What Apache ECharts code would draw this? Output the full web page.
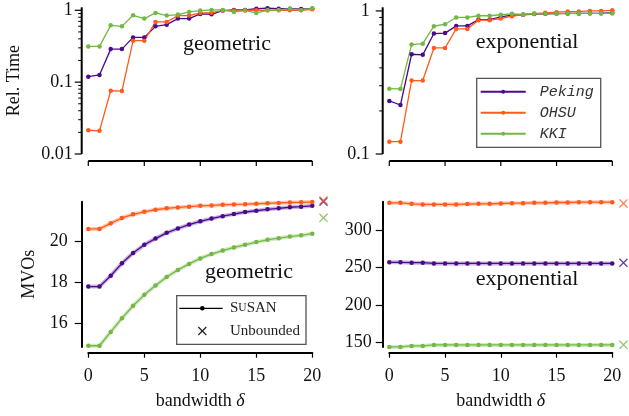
<!DOCTYPE html>
<html>
<head>
<meta charset="utf-8">
<script src="https://cdn.jsdelivr.net/npm/echarts@6/dist/echarts.min.js"></script>
<style>
html,body{margin:0;padding:0;background:#fff;}
#chart{width:629px;height:416px;}
</style>
</head>
<body>
<div id="chart"></div>
<script>
// ---------------- data ----------------
const bandwidth = [0,1,2,3,4,5,6,7,8,9,10,11,12,13,14,15,16,17,18,19,20];

const geoTimePeking = [0.119,0.126,0.288,0.288,0.419,0.419,0.597,0.631,0.766,0.766,0.89,0.88,0.99,1.01,1.01,1.05,1.07,1.05,1.05,1.04,1.05];
const geoTimeOHSU   = [0.0214,0.021,0.076,0.075,0.377,0.377,0.688,0.688,0.843,0.843,0.918,0.925,0.99,0.99,1.0,1.0,1.0,1.0,1.0,1.0,1.03];
const geoTimeKKI    = [0.314,0.314,0.617,0.597,0.851,0.766,0.918,0.843,0.87,0.95,0.99,1.01,1.01,0.95,0.99,0.92,1.0,1.01,1.05,1.0,1.07];

const expTimePeking = [0.235,0.22,0.498,0.493,0.695,0.70,0.786,0.786,0.87,0.87,0.908,0.933,0.94,0.95,0.955,0.958,0.96,0.96,0.962,0.965,0.97];
const expTimeOHSU   = [0.122,0.122,0.326,0.326,0.551,0.551,0.749,0.749,0.861,0.861,0.885,0.918,0.945,0.958,0.97,0.98,0.99,0.99,1.0,1.0,1.01];
const expTimeKKI    = [0.286,0.285,0.582,0.59,0.782,0.807,0.9,0.9,0.925,0.925,0.94,0.955,0.945,0.955,0.955,0.958,0.958,0.96,0.96,0.96,0.96];

const geoMvoPeking = [17.78,17.78,18.31,18.91,19.41,19.81,20.11,20.39,20.6,20.79,20.95,21.08,21.2,21.3,21.4,21.46,21.53,21.58,21.63,21.66,21.7];
const geoMvoOHSU   = [20.58,20.58,20.85,21.11,21.29,21.41,21.51,21.58,21.62,21.66,21.7,21.72,21.75,21.77,21.78,21.8,21.82,21.84,21.86,21.87,21.88];
const geoMvoKKI    = [14.91,14.91,15.58,16.24,16.85,17.38,17.83,18.25,18.59,18.88,19.15,19.36,19.53,19.68,19.81,19.94,20.05,20.13,20.21,20.27,20.35];

const expMvoPeking = [256.8,256.8,256.4,256.4,255.4,255.4,255.4,255.4,255.4,255.4,255.4,255.4,255.4,255.4,255.4,255.4,255.4,255.4,255.4,255.4,255.4];
const expMvoOHSU   = [336.5,336.5,335.2,334.3,334.3,334.3,334.3,334.8,335.2,335.2,335.6,336,336,336.5,336.5,336.9,336.9,337.3,337.3,337.3,337.3];
const expMvoKKI    = [143.6,143.6,144.9,144.9,146.3,146.3,146.3,146.3,146.3,146.3,146.3,146.3,146.3,146.3,146.3,146.3,146.3,146.3,146.3,146.3,146.3];

// "Unbounded" reference values, drawn just right of delta = 20
const unboundedDelta = 21;
const geoUnbounded = {Peking: 21.9, OHSU: 21.96, KKI: 21.12};
const expUnbounded = {Peking: 256.3, OHSU: 335.7, KKI: 146.4};

const datasets = ['Peking','OHSU','KKI'];
const xTicks = [0,5,10,15,20];
const geoTimeTicks = [0.01,0.1,1];
const expTimeTicks = [0.1,1];
const minorLogTicks = [0.02,0.03,0.04,0.05,0.06,0.07,0.08,0.09,0.2,0.3,0.4,0.5,0.6,0.7,0.8,0.9];
const geoMvoTicks = [16,18,20];
const expMvoTicks = [150,200,250,300];
const panelTitles = ['geometric','exponential','geometric','exponential'];
const geoTimeRange = [0.01, 1.1];
const expTimeRange = [0.1, 1.06];

// ---------------- style / layout ----------------
const colors = {Peking:'#4b0a8c', OHSU:'#ff5a1a', KKI:'#72b843'};
const SERIF = "'Liberation Serif', 'DejaVu Serif', serif";
const MONO = "'Liberation Mono', 'DejaVu Sans Mono', monospace";
const XPATH = 'path://M0,1L1,0L10,9L9,10Z M9,0L10,1L1,10L0,9Z';
const Y_OFFSET = 6.6, TOP_X_OFFSET = 7;

const grids = [
  {left:88.3, top:7.3, width:224, height:146.7},
  {left:389.3, top:7.3, width:223, height:146.7},
  {left:88.3, top:201.7, width:224, height:145.3},
  {left:389.3, top:201.7, width:223, height:145.3}
].map(g => Object.assign({containLabel:false, outerBoundsMode:'none'}, g));

function topX(i){
  return {type:'value', gridIndex:i, position:'bottom', min:0, max:20, interval:5, show:false};
}
function bottomX(i){
  return {
    type:'value', gridIndex:i, position:'bottom', min:0, max:20, interval:5, offset:5.7,
    axisLine:{show:true, onZero:false, lineStyle:{color:'#000', width:2}},
    axisTick:{show:true, length:5, lineStyle:{color:'#000', width:1.2}},
    axisLabel:{show:true, margin:15, fontSize:18, color:'#111', fontFamily:SERIF},
    splitLine:{show:false},
    name:'bandwidth {i|δ}', nameLocation:'middle', nameGap:40,
    nameTextStyle:{fontSize:18, color:'#111', fontFamily:SERIF, rich:{i:{fontSize:18, fontStyle:'italic', fontFamily:SERIF, color:'#111'}}}
  };
}
function logAxis(i, range, ticks, margin, name){
  return {
    type:'log', logBase:10, gridIndex:i, position:'left', min:range[0], max:range[1], offset:Y_OFFSET,
    axisLine:{show:false, onZero:false},
    axisTick:{show:false},
    axisLabel:{margin:margin, fontSize:18, color:'#111', fontFamily:SERIF, showMaxLabel:false,
      formatter: v => (ticks.some(t => Math.abs(t - v) < 1e-9) ? String(v) : '')},
    splitLine:{show:false},
    name:name, nameLocation:'middle', nameGap:58,
    nameTextStyle:{fontSize:18, color:'#111', fontFamily:SERIF}
  };
}
function valueAxis(i, min, max, ticks, margin, name, gap){
  return {
    type:'value', gridIndex:i, position:'left', min:min, max:max, offset:Y_OFFSET,
    axisLine:{show:true, onZero:false, lineStyle:{color:'#000', width:2}},
    axisTick:{show:true, length:7, lineStyle:{color:'#000', width:1.2}, customValues:ticks},
    axisLabel:{margin:margin, fontSize:18, color:'#111', fontFamily:SERIF, customValues:ticks},
    splitLine:{show:false},
    name:name, nameLocation:'middle', nameGap:gap,
    nameTextStyle:{fontSize:18, color:'#111', fontFamily:SERIF}
  };
}

const xAxes = [topX(0), topX(1), bottomX(2), bottomX(3)];
const yAxes = [
  logAxis(0, geoTimeRange, geoTimeTicks, 9, 'Rel. Time'),
  logAxis(1, expTimeRange, expTimeTicks, 13, ''),
  valueAxis(2, 14.85, 21.9, geoMvoTicks, 14, 'MVOs', 43),
  valueAxis(3, 143.5, 338, expMvoTicks, 11, '', 40)
];

function pairs(ys){ return ys.map((y, k) => [bandwidth[k], y]); }

const seriesArr = [];
const panels = [
  {grid:0, data:{Peking:geoTimePeking, OHSU:geoTimeOHSU, KKI:geoTimeKKI}},
  {grid:1, data:{Peking:expTimePeking, OHSU:expTimeOHSU, KKI:expTimeKKI}},
  {grid:2, data:{Peking:geoMvoPeking, OHSU:geoMvoOHSU, KKI:geoMvoKKI}, band:true, unb:geoUnbounded},
  {grid:3, data:{Peking:expMvoPeking, OHSU:expMvoOHSU, KKI:expMvoKKI}, band:true, unb:expUnbounded}
];
panels.forEach(p => {
  datasets.forEach(ds => {
    if (p.band) {
      seriesArr.push({
        name: ds + ' band', type:'line', xAxisIndex:p.grid, yAxisIndex:p.grid,
        data: pairs(p.data[ds]), showSymbol:false, silent:true, z:1,
        lineStyle:{color:colors[ds], width:4, opacity:0.3}, itemStyle:{color:colors[ds]}
      });
    }
    seriesArr.push({
      name: ds, type:'line', xAxisIndex:p.grid, yAxisIndex:p.grid,
      data: pairs(p.data[ds]), symbol:'circle', symbolSize:4.5, showAllSymbol:true, z:3, clip:false,
      lineStyle:{color:colors[ds], width:1.3}, itemStyle:{color:colors[ds]}
    });
  });
  if (p.unb) {
    ['KKI','Peking','OHSU'].forEach(ds => {
      seriesArr.push({
        name: ds + ' unbounded', type:'scatter', xAxisIndex:p.grid, yAxisIndex:p.grid,
        data: [[unboundedDelta, p.unb[ds]]], symbol:XPATH, symbolSize:9, clip:false, z:4,
        itemStyle:{color:colors[ds]}
      });
    });
  }
});

// Axis lines and ticks of the two log-scale panels, drawn as custom series so that
// every position comes from the panel's own axis scales (api.coord).
function axisDecor(p, range, majors){
  const common = {type:'custom', coordinateSystem:'cartesian2d', xAxisIndex:p, yAxisIndex:p,
    silent:true, z:10, clip:false, animation:false, tooltip:{show:false}};
  const ySpec = [[0, range[0], range[1], 0]]                       // axis line: kind 0
    .concat(majors.map(v => [0, v, 7, 1]))                         // major ticks: kind 1
    .concat(minorLogTicks.filter(v => v > range[0] && v < range[1]).map(v => [0, v, 3.5, 2])); // minor: kind 2
  const xSpec = [[0, range[0], 20, 0]]                             // x-axis line
    .concat(xTicks.map(v => [v, range[0], 5, 1]));                 // x ticks
  return [
    Object.assign({}, common, {
      name:'yaxis' + p, data:ySpec, encode:{x:0, y:1},
      renderItem:(params, api) => {
        const kind = api.value(3);
        const a = api.coord([0, api.value(1)]);
        const x = a[0] - Y_OFFSET;
        if (kind === 0) {
          const b = api.coord([0, api.value(2)]);
          return {type:'line', shape:{x1:x, y1:a[1], x2:x, y2:b[1]}, style:{stroke:'#000', lineWidth:2}};
        }
        const len = api.value(2);
        return {type:'line', shape:{x1:x - len, y1:a[1], x2:x, y2:a[1]}, style:{stroke:'#000', lineWidth: kind === 1 ? 1.2 : 1}};
      }
    }),
    Object.assign({}, common, {
      name:'xaxis' + p, data:xSpec, encode:{x:0, y:1},
      renderItem:(params, api) => {
        const kind = api.value(3);
        const a = api.coord([api.value(0), api.value(1)]);
        const y = a[1] + TOP_X_OFFSET;
        if (kind === 0) {
          const b = api.coord([api.value(2), api.value(1)]);
          return {type:'line', shape:{x1:a[0], y1:y, x2:b[0], y2:y}, style:{stroke:'#000', lineWidth:2}};
        }
        return {type:'line', shape:{x1:a[0], y1:y, x2:a[0], y2:y + api.value(2)}, style:{stroke:'#000', lineWidth:1.2}};
      }
    })
  ];
}
axisDecor(0, geoTimeRange, geoTimeTicks).concat(axisDecor(1, expTimeRange, expTimeTicks)).forEach(s => seriesArr.push(s));

const titlePos = [[227,44],[527,42.3],[249,272.3],[527,279.6]];

// bottom-left key (drawn as graphics)
const keyGraphics = [
  {type:'rect', shape:{x:176.7, y:295.7, width:129.3, height:48.6}, style:{fill:'#fff', stroke:'#555', lineWidth:1.3}, z:10},
  {type:'line', shape:{x1:179.3, y1:308.3, x2:222.7, y2:308.3}, style:{stroke:'#000', lineWidth:1.3}, z:11},
  {type:'circle', shape:{cx:202.3, cy:308.3, r:2.3}, style:{fill:'#000'}, z:11},
  {type:'text', x:230, y:308.3, z:11, style:{text:'S{sc|U}SAN', fontSize:15, fontFamily:SERIF, fill:'#222', verticalAlign:'middle',
     rich:{sc:{fontSize:11.5, fontFamily:SERIF, fill:'#222'}}}},
  {type:'line', shape:{x1:198.3, y1:327, x2:206.3, y2:335}, style:{stroke:'#222', lineWidth:1.2}, z:11},
  {type:'line', shape:{x1:206.3, y1:327, x2:198.3, y2:335}, style:{stroke:'#222', lineWidth:1.2}, z:11},
  {type:'text', x:230, y:331, z:11, style:{text:'Unbounded', fontSize:15, fontFamily:SERIF, fill:'#222', verticalAlign:'middle'}}
];
const titleGraphics = panelTitles.map((t, i) => ({
  type:'text', x:titlePos[i][0], y:titlePos[i][1], z:10,
  style:{text:t, fontSize:22, fontFamily:SERIF, fill:'#111', align:'center', verticalAlign:'middle'}
}));

const option = {
  animation:false,
  backgroundColor:'#fff',
  textStyle:{fontFamily:SERIF},
  grid:grids,
  xAxis:xAxes,
  yAxis:yAxes,
  legend:[
    {data:datasets, orient:'vertical', left:476.7, top:78.3, itemWidth:45, itemHeight:5, itemGap:6,
     padding:[6,7,6,3], borderColor:'#555', borderWidth:1.3, selectedMode:false, backgroundColor:'#fff',
     textStyle:{fontFamily:MONO, fontStyle:'italic', fontSize:15, lineHeight:15, color:'#333', padding:[0,0,0,9]}}
  ],
  graphic: keyGraphics.concat(titleGraphics),
  series:seriesArr
};

const chart = echarts.init(document.getElementById('chart'), null, {renderer:'canvas'});
chart.setOption(option);
</script>
</body>
</html>
